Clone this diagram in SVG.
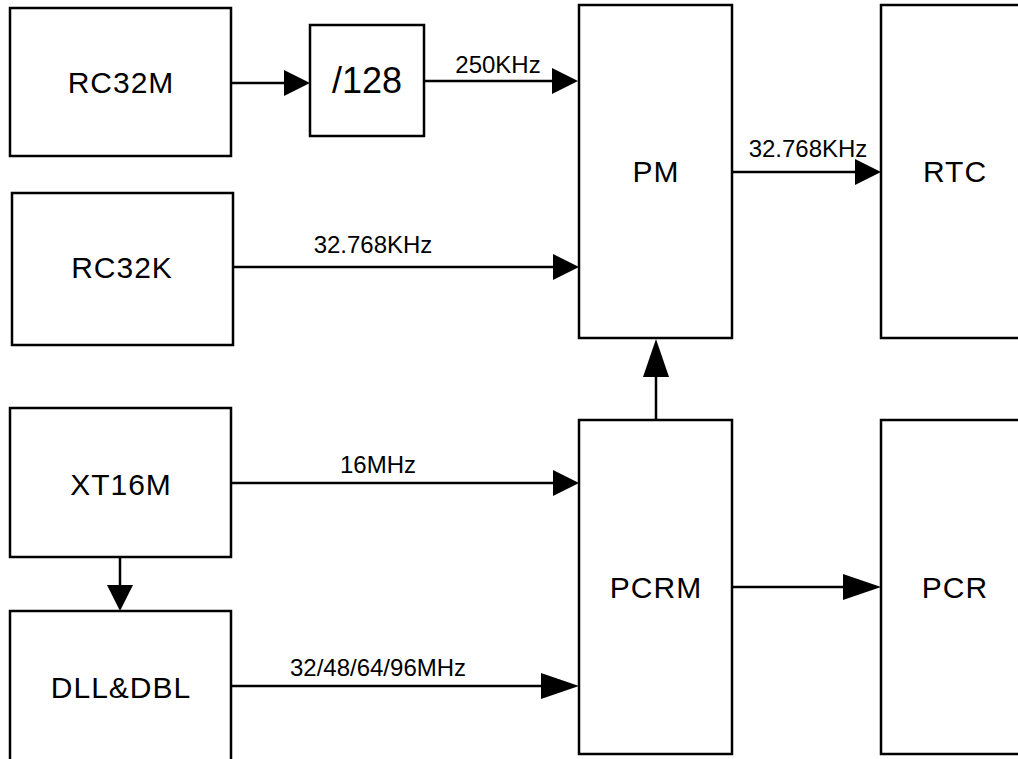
<svg xmlns="http://www.w3.org/2000/svg" width="1018" height="759" viewBox="0 0 1018 759">
<style>
.box{fill:#fff;stroke:#000;stroke-width:2.5}
.t{font-family:"Liberation Sans",Arial,sans-serif;font-size:30px;fill:#000;text-anchor:middle;letter-spacing:1px}
.lbl{font-family:"Liberation Sans",Arial,sans-serif;font-size:24px;fill:#000;text-anchor:middle}
.c{stroke:#000;stroke-width:2.5;fill:none}
.s{marker-end:url(#ah)}
.l{marker-end:url(#ahl)}
</style>
<defs>
<marker id="ah" markerUnits="userSpaceOnUse" markerWidth="26" markerHeight="26" refX="16" refY="13" orient="auto" viewBox="0 0 26 26">
<path d="M0,0 L26,13 L0,26 z" fill="#000"/>
</marker>
<marker id="ahl" markerUnits="userSpaceOnUse" markerWidth="38" markerHeight="26" refX="28" refY="13" orient="auto" viewBox="0 0 38 26">
<path d="M0,0 L38,13 L0,26 z" fill="#000"/>
</marker>
</defs>
<rect width="1018" height="759" fill="#fff"/>
<g id="rc32m"><rect class="box" x="10" y="8" width="221" height="148"/><text class="t" x="121" y="93">RC32M</text></g>
<g id="div128"><rect class="box" x="310" y="25" width="114" height="111"/><text class="t" x="367" y="93" style="font-size:36px;letter-spacing:0">/128</text></g>
<g id="rc32k"><rect class="box" x="12" y="193" width="221" height="152"/><text class="t" x="122" y="278">RC32K</text></g>
<g id="xt16m"><rect class="box" x="10" y="408" width="221" height="149"/><text class="t" x="121" y="495">XT16M</text></g>
<g id="dll"><rect class="box" x="10" y="611" width="221" height="160"/><text class="t" x="121" y="698">DLL&amp;DBL</text></g>
<g id="pm"><rect class="box" x="579" y="5" width="153" height="333"/><text class="t" x="656" y="182">PM</text></g>
<g id="rtc"><rect class="box" x="881" y="5" width="160" height="333"/><text class="t" x="955" y="182">RTC</text></g>
<g id="pcrm"><rect class="box" x="579" y="420" width="153" height="334"/><text class="t" x="656" y="598">PCRM</text></g>
<g id="pcr"><rect class="box" x="881" y="420" width="160" height="334"/><text class="t" x="955" y="598">PCR</text></g>
<g id="connectors">
<line class="c s" x1="231" y1="83" x2="300" y2="83"/>
<line class="c s" x1="424" y1="81" x2="568" y2="81"/>
<text class="lbl" x="498" y="73">250KHz</text>
<line class="c s" x1="233" y1="267" x2="569" y2="267"/>
<text class="lbl" x="373" y="253">32.768KHz</text>
<line class="c s" x1="732" y1="172" x2="871" y2="172"/>
<text class="lbl" x="808" y="157">32.768KHz</text>
<line class="c s" x1="231" y1="483" x2="569" y2="483"/>
<text class="lbl" x="378" y="473">16MHz</text>
<line class="c s" x1="120" y1="557" x2="120" y2="601"/>
<line class="c l" x1="231" y1="686" x2="569" y2="686"/>
<text class="lbl" x="378" y="676">32/48/64/96MHz</text>
<line class="c l" x1="656" y1="420" x2="656" y2="349"/>
<line class="c l" x1="732" y1="587" x2="871" y2="587"/>
</g>
</svg>
